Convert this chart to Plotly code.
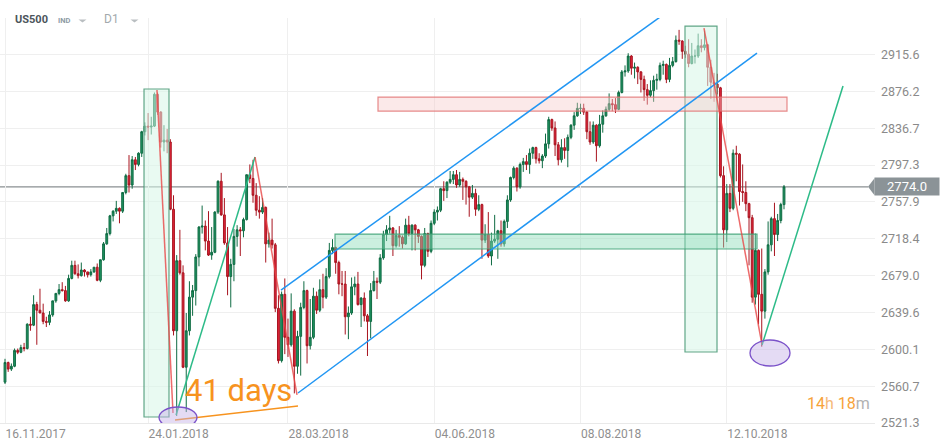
import plotly.graph_objects as go

# ---------------- data ----------------
# x = trading-day index (0 = 16.11.2017 ... 245 = 07.11.2018)
tick_index = [0, 45, 89, 135, 181, 227]
tick_labels = ["16.11.2017", "24.01.2018", "28.03.2018", "04.06.2018", "08.08.2018", "12.10.2018"]

price_ticks = [2521.3, 2560.73, 2600.16, 2639.59, 2679.02, 2718.45, 2757.88, 2797.31, 2836.74, 2876.17, 2915.6]
price_tick_labels = ["2521.3", "2560.7", "2600.1", "2639.6", "2679.0", "2718.4", "2757.9", "2797.3", "2836.7", "2876.2", "2915.6"]

last_price = 2774.0

open_ = [
    # Nov 2017
    2565, 2586, 2579, 2582, 2599, 2597, 2602, 2601, 2627, 2626,
    # Dec 2017
    2648, 2642, 2639, 2630, 2629, 2637, 2652, 2660, 2664, 2663, 2652, 2676, 2690, 2681, 2679, 2685, 2683, 2680, 2683, 2688,
    # Jan 2018
    2674, 2696, 2713, 2724, 2743, 2748, 2751, 2748, 2768, 2786, 2776, 2803, 2798, 2810, 2833, 2839, 2838, 2839, 2873, 2854, 2822,
    # Feb 2018
    2824, 2822, 2750, 2620, 2695, 2682, 2581, 2620, 2656, 2663, 2699, 2731, 2732, 2716, 2701, 2704, 2747, 2780, 2744,
    # Mar 2018
    2714, 2678, 2691, 2721, 2728, 2727, 2739, 2787, 2783, 2765, 2749, 2747, 2752, 2713, 2717, 2712, 2644, 2588, 2659, 2613, 2605,
    # Apr 2018
    2641, 2582, 2614, 2645, 2663, 2604, 2613, 2657, 2642, 2664, 2656, 2678, 2706, 2709, 2693, 2670, 2670, 2635, 2639, 2667, 2670,
    # May 2018
    2648, 2655, 2636, 2630, 2663, 2673, 2672, 2698, 2723, 2728, 2730, 2711, 2722, 2720, 2713, 2733, 2724, 2733, 2728, 2721, 2690, 2724,
    # Jun 2018
    2705, 2735, 2747, 2749, 2772, 2770, 2779, 2782, 2787, 2776, 2782, 2780, 2774, 2763, 2767, 2750, 2755, 2717, 2723, 2700, 2716,
    # Jul 2018
    2718, 2727, 2713, 2737, 2760, 2784, 2794, 2774, 2798, 2801, 2798, 2810, 2816, 2804, 2802, 2807, 2820, 2846, 2837, 2819, 2803,
    # Aug 2018
    2816, 2813, 2827, 2840, 2850, 2858, 2858, 2854, 2833, 2822, 2840, 2818, 2841, 2850, 2857, 2863, 2862, 2857, 2875, 2897, 2898, 2914, 2901,
    # Sep 2018
    2902, 2897, 2889, 2878, 2872, 2877, 2888, 2889, 2904, 2905, 2889, 2904, 2908, 2931, 2930, 2919, 2916, 2906, 2914,
    # Oct 2018
    2914, 2925, 2923, 2926, 2902, 2886, 2884, 2880, 2786, 2728, 2767, 2751, 2810, 2809, 2769, 2768, 2756, 2741, 2656, 2706, 2659, 2641, 2683,
    # Nov 2018
    2712, 2740, 2723, 2738, 2755,
]
high = [
    2590, 2587, 2585, 2601, 2601, 2605, 2607, 2628, 2635, 2658,
    2651, 2665, 2649, 2635, 2641, 2652, 2660, 2670, 2672, 2668, 2680, 2695, 2695, 2691, 2693, 2686, 2683, 2686, 2688, 2692,
    2696, 2715, 2730, 2744, 2749, 2759, 2752, 2768, 2788, 2808, 2807, 2806, 2811, 2834, 2843, 2853, 2849, 2875, 2875, 2855, 2840,
    2836, 2825, 2765, 2701, 2728, 2690, 2639, 2673, 2669, 2702, 2732, 2754, 2738, 2748, 2731, 2748, 2781, 2789, 2762,
    2731, 2697, 2729, 2733, 2731, 2741, 2787, 2798, 2803, 2778, 2764, 2762, 2753, 2725, 2740, 2714, 2658, 2662, 2676, 2633, 2660,
    2643, 2620, 2650, 2673, 2664, 2654, 2666, 2662, 2675, 2681, 2687, 2714, 2718, 2710, 2695, 2684, 2684, 2646, 2677, 2678, 2683,
    2656, 2661, 2638, 2671, 2684, 2677, 2702, 2727, 2733, 2743, 2731, 2728, 2732, 2722, 2740, 2743, 2734, 2734, 2729, 2722, 2730, 2725,
    2738, 2750, 2753, 2773, 2780, 2780, 2791, 2791, 2792, 2790, 2784, 2781, 2775, 2776, 2772, 2765, 2756, 2734, 2747, 2725, 2744,
    2728, 2738, 2739, 2765, 2785, 2796, 2795, 2800, 2805, 2808, 2815, 2817, 2817, 2810, 2809, 2831, 2849, 2847, 2844, 2822, 2825,
    2826, 2830, 2841, 2854, 2864, 2863, 2863, 2855, 2844, 2844, 2841, 2851, 2856, 2860, 2874, 2868, 2869, 2877, 2899, 2904, 2917, 2915, 2907,
    2903, 2898, 2893, 2884, 2888, 2893, 2895, 2907, 2909, 2906, 2912, 2913, 2936, 2942, 2931, 2925, 2932, 2928, 2921,
    2938, 2932, 2941, 2927, 2910, 2896, 2895, 2881, 2796, 2777, 2777, 2814, 2818, 2810, 2798, 2780, 2757, 2744, 2724, 2707, 2708, 2686, 2737,
    2742, 2757, 2745, 2757, 2776,
]
low = [
    2563, 2576, 2577, 2581, 2595, 2596, 2598, 2600, 2620, 2625,
    2605, 2639, 2627, 2624, 2626, 2635, 2650, 2658, 2662, 2651, 2651, 2675, 2680, 2676, 2678, 2678, 2677, 2678, 2682, 2673,
    2672, 2695, 2712, 2722, 2737, 2745, 2735, 2746, 2766, 2768, 2772, 2792, 2796, 2806, 2829, 2824, 2830, 2838, 2851, 2816, 2812,
    2810, 2749, 2615, 2529, 2680, 2580, 2533, 2615, 2636, 2647, 2689, 2724, 2706, 2700, 2696, 2703, 2745, 2743, 2712,
    2658, 2645, 2673, 2710, 2700, 2720, 2738, 2778, 2757, 2743, 2740, 2745, 2693, 2709, 2708, 2640, 2585, 2586, 2595, 2592, 2603,
    2553, 2574, 2572, 2643, 2585, 2600, 2611, 2638, 2640, 2644, 2654, 2676, 2702, 2681, 2659, 2657, 2616, 2611, 2637, 2658, 2647,
    2624, 2630, 2593, 2612, 2662, 2654, 2670, 2696, 2716, 2724, 2700, 2709, 2710, 2708, 2712, 2721, 2706, 2706, 2714, 2675, 2688, 2699,
    2703, 2733, 2738, 2747, 2759, 2762, 2777, 2777, 2773, 2774, 2760, 2755, 2742, 2761, 2743, 2748, 2697, 2714, 2698, 2690, 2714,
    2697, 2710, 2710, 2730, 2758, 2782, 2769, 2772, 2790, 2792, 2788, 2804, 2799, 2799, 2794, 2805, 2815, 2834, 2807, 2797, 2800,
    2804, 2795, 2825, 2835, 2849, 2852, 2851, 2825, 2819, 2820, 2801, 2816, 2832, 2849, 2855, 2855, 2853, 2856, 2874, 2892, 2896, 2894, 2890,
    2884, 2875, 2866, 2862, 2870, 2865, 2878, 2887, 2894, 2885, 2886, 2902, 2907, 2926, 2911, 2912, 2902, 2905, 2906,
    2912, 2918, 2920, 2882, 2868, 2865, 2873, 2784, 2709, 2715, 2747, 2749, 2780, 2754, 2758, 2748, 2690, 2650, 2648, 2627, 2603, 2633, 2680,
    2705, 2700, 2716, 2735, 2750,
]
close = [
    2586, 2579, 2582, 2599, 2597, 2602, 2601, 2627, 2626, 2648,
    2642, 2639, 2630, 2629, 2637, 2652, 2660, 2664, 2663, 2652, 2676, 2690, 2681, 2679, 2685, 2683, 2680, 2683, 2688, 2674,
    2696, 2713, 2724, 2743, 2748, 2751, 2748, 2768, 2786, 2776, 2803, 2798, 2810, 2833, 2839, 2838, 2839, 2873, 2854, 2822, 2824,
    2822, 2750, 2620, 2695, 2682, 2581, 2620, 2656, 2663, 2699, 2731, 2732, 2716, 2701, 2704, 2747, 2780, 2744, 2714,
    2678, 2691, 2721, 2728, 2727, 2739, 2787, 2783, 2765, 2749, 2747, 2752, 2713, 2717, 2712, 2644, 2588, 2659, 2613, 2605, 2641,
    2582, 2614, 2645, 2663, 2604, 2613, 2657, 2642, 2664, 2656, 2678, 2706, 2709, 2693, 2670, 2670, 2635, 2639, 2667, 2670, 2648,
    2655, 2636, 2630, 2663, 2673, 2672, 2698, 2723, 2728, 2730, 2711, 2722, 2720, 2713, 2733, 2724, 2733, 2728, 2721, 2690, 2724, 2705,
    2735, 2747, 2749, 2772, 2770, 2779, 2782, 2787, 2776, 2782, 2780, 2774, 2763, 2767, 2750, 2755, 2717, 2723, 2700, 2716, 2718,
    2727, 2713, 2737, 2760, 2784, 2794, 2774, 2798, 2801, 2798, 2810, 2816, 2804, 2802, 2807, 2820, 2846, 2837, 2819, 2803, 2816,
    2813, 2827, 2840, 2850, 2858, 2858, 2854, 2833, 2822, 2840, 2818, 2841, 2850, 2857, 2863, 2862, 2857, 2875, 2897, 2898, 2914, 2901, 2902,
    2897, 2889, 2878, 2872, 2877, 2888, 2889, 2904, 2905, 2889, 2904, 2908, 2931, 2930, 2919, 2916, 2906, 2914, 2914,
    2925, 2923, 2926, 2902, 2886, 2884, 2880, 2786, 2728, 2767, 2751, 2810, 2809, 2769, 2768, 2756, 2741, 2656, 2706, 2659, 2641, 2683, 2712,
    2740, 2723, 2738, 2755, 2774,
]
bar = list(range(len(close)))

# ---------------- geometry ----------------
W, H = 940, 448
M_L, M_R, M_T, M_B = 0, 65, 18, 25
PW, PH = W - M_L - M_R, H - M_T - M_B
X_RANGE = [-1.5725, 273.62]
Y_RANGE = [2521.3, 2954.7]


def px_x(px):
    return (px - M_L) / PW


def px_y(py):
    return (H - M_B - py) / PH


FONT = "Roboto, Arial, sans-serif"

fig = go.Figure()
fig.add_trace(go.Candlestick(
    x=bar, open=open_, high=high, low=low, close=close,
    increasing=dict(line=dict(color="#0f6b43", width=1), fillcolor="#1f9361"),
    decreasing=dict(line=dict(color="#a8141f", width=1), fillcolor="#e0243a"),
    whiskerwidth=0, hoverinfo="skip", showlegend=False,
))

shapes = []
# last price line
shapes.append(dict(type="line", xref="paper", yref="y", x0=0, x1=px_x(868), y0=last_price, y1=last_price,
                   line=dict(color="#8a8f92", width=1.1), layer="below"))

# zones
def rect(x0, x1, y0, y1, fill, line):
    shapes.append(dict(type="rect", xref="x", yref="y", x0=x0, x1=x1, y0=y0, y1=y1,
                       fillcolor=fill, line=dict(color=line, width=1.2), layer="above"))

rect(43.72, 51.58, 2527.7, 2878.7, "rgba(215,245,232,0.55)", "rgba(70,150,115,0.85)")
rect(213.86, 223.93, 2597.3, 2946.1, "rgba(215,245,232,0.55)", "rgba(70,150,115,0.85)")
rect(103.79, 236.51, 2707.5, 2723.5, "rgba(140,220,185,0.45)", "rgba(60,160,115,0.85)")
rect(117.31, 245.94, 2855.1, 2870.1, "rgba(245,200,200,0.4)", "rgba(225,110,110,0.8)")

def seg(x0, y0, x1, y1, color, width=1.5):
    shapes.append(dict(type="line", xref="x", yref="y", x0=x0, y0=y0, x1=x1, y1=y1,
                       line=dict(color=color, width=width), layer="above"))

BLUE = "#2196f3"
RED = "rgba(232,70,70,0.8)"
GREEN = "#2dbb88"
ORANGE = "#f7931e"
seg(86.80, 2663.6, 206.0, 2955.7, BLUE)
seg(92.15, 2553.4, 236.5, 2917.2, BLUE)
seg(47.8, 2877.6, 52.84, 2532.0, RED)
seg(53.8, 2529.9, 78.63, 2805.9, GREEN)
seg(78.63, 2805.9, 91.84, 2551.3, RED)
seg(53.47, 2524.5, 92.15, 2539.5, ORANGE)
seg(219.84, 2943.9, 238.08, 2604.8, RED)
seg(238.08, 2604.8, 263.56, 2881.9, GREEN)

for (x0, x1, y0, y1) in [(48.43, 60.39, 2515.9, 2538.4), (234.31, 246.89, 2582.3, 2610.1)]:
    shapes.append(dict(type="circle", xref="x", yref="y", x0=x0, x1=x1, y0=y0, y1=y1,
                       fillcolor="rgba(195,175,230,0.45)", line=dict(color="#7b52c9", width=1.3), layer="above"))

# price tag arrow
half = 8.5 * (Y_RANGE[1] - Y_RANGE[0]) / PH
shapes.append(dict(type="path", xref="paper", yref="y",
                   path=f"M {px_x(868)},{last_price} L {px_x(874.5)},{last_price + half} L {px_x(874.5)},{last_price - half} Z",
                   fillcolor="#8b9397", line=dict(width=0)))

# dropdown carets
for cx in (82.5, 134.5):
    shapes.append(dict(type="path", xref="paper", yref="paper",
                       path=f"M {px_x(cx - 4)},{px_y(19.5)} L {px_x(cx + 4)},{px_y(19.5)} L {px_x(cx)},{px_y(22.5)} Z",
                       fillcolor="#b9bec1", line=dict(width=0)))

annotations = [
    dict(xref="x", yref="y", x=55.98, y=2556.6, text="41 days", showarrow=False, xanchor="left", yanchor="middle",
         font=dict(family=FONT, size=31, color=ORANGE)),
    dict(xref="paper", yref="paper", x=px_x(872), y=px_y(403), xanchor="right", yanchor="middle", showarrow=False,
         text="<span style='color:#f7a23a'>14</span><span style='color:#f5b979'>h</span> "
              "<span style='color:#f7a23a'>18</span><span style='color:#b2b2b2'>m</span>",
         font=dict(family=FONT, size=16)),
    dict(xref="paper", yref="y", x=px_x(874), y=last_price, xanchor="left", yanchor="middle", showarrow=False,
         text="2774.0", bgcolor="#8b9397", width=62, height=15, borderpad=1, align="center",
         font=dict(family=FONT, size=13, color="white")),
    dict(xref="paper", yref="paper", x=px_x(13), y=px_y(19.5), xanchor="left", yanchor="middle", showarrow=False,
         text="<b>US500</b>", font=dict(family=FONT, size=11, color="#4c555b")),
    dict(xref="paper", yref="paper", x=px_x(56), y=px_y(20), xanchor="left", yanchor="middle", showarrow=False,
         text="<b>IND</b>", font=dict(family=FONT, size=7.5, color="#8e9ba4")),
    dict(xref="paper", yref="paper", x=px_x(102), y=px_y(19.5), xanchor="left", yanchor="middle", showarrow=False,
         text="D1", font=dict(family=FONT, size=12, color="#a3a9ad")),
]

fig.update_layout(
    width=W, height=H,
    margin=dict(l=M_L, r=M_R, t=M_T, b=M_B, pad=0),
    paper_bgcolor="white", plot_bgcolor="white",
    showlegend=False, hovermode=False, dragmode=False,
    boxgap=0.18,
    shapes=shapes, annotations=annotations,
    xaxis=dict(type="linear", range=X_RANGE, tickvals=tick_index, ticktext=tick_labels,
               showgrid=True, gridcolor="#efefef", gridwidth=1, zeroline=False,
               showline=True, linecolor="#e9e9e9", linewidth=1,
               ticks="", ticklabelposition="outside right", ticklabelstandoff=0,
               tickfont=dict(family=FONT, size=12, color="#8f8f8f"),
               rangeslider=dict(visible=False), fixedrange=True),
    yaxis=dict(range=Y_RANGE, side="right", tickvals=price_ticks, ticktext=price_tick_labels,
               showgrid=True, gridcolor="#efefef", gridwidth=1, zeroline=False, showline=False,
               ticks="", ticklabelstandoff=5,
               tickfont=dict(family=FONT, size=12.5, color="#8a8a8a"), fixedrange=True),
)

fig.write_html("out.html", config={"displayModeBar": False},
               post_script="document.body.style.margin='0';document.body.style.overflow='hidden';")
